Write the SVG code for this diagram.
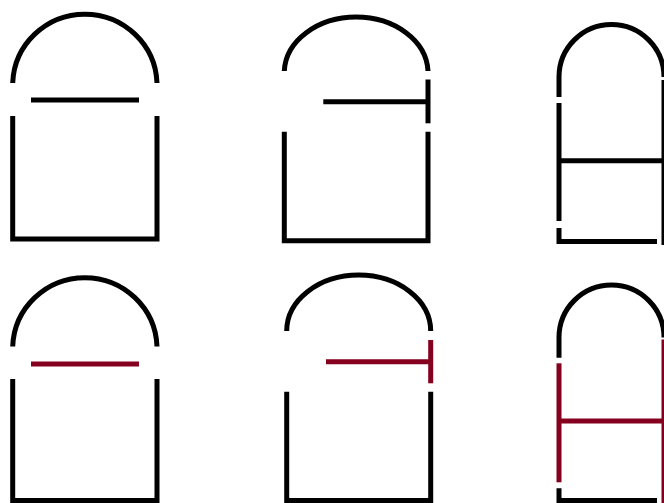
<svg xmlns="http://www.w3.org/2000/svg" width="664" height="503" viewBox="0 0 664 503">
<style>
.w{fill:none;stroke:#000;stroke-width:5;stroke-linejoin:miter;stroke-linecap:butt}
.r{fill:none;stroke:#85001f;stroke-width:5;stroke-linecap:butt}
</style>
<rect width="664" height="503" fill="#fff"/>
<g id="door1">
<path class="w" d="M12.7,83 A72.2,71.5 0 0 1 157,83"/>
<path class="w" d="M12.7,116 L12.7,239 L157,239 L157,116"/>
<path class="w" d="M31,100 L139,100"/>
</g>
<g id="door2">
<path class="w" d="M284.3,71 A71.9,56 0 0 1 428,71"/>
<path class="w" d="M284.3,131.7 L284.3,240.8 L428,240.8 L428,131.7"/>
<path class="w" d="M428,79.5 L428,123.3"/>
<path class="w" d="M323.3,101.8 L428,101.8"/>
</g>
<g id="door3">
<path class="w" d="M559,97 L559,77 A52.5,52.5 0 0 1 664,77"/>
<path class="w" d="M559,103 L559,221"/>
<path class="w" d="M559,228 L559,241.5 L657,241.5"/>
<path class="w" d="M664,80 L664,245"/>
<path class="w" d="M559,160.8 L664,160.8"/>
</g>
<g id="door4">
<path class="w" d="M12.7,346.5 A72.2,71.5 0 0 1 157,346.5"/>
<path class="w" d="M12.7,379 L12.7,500.5 L157,500.5 L157,379"/>
<path class="r" d="M31,364 L139,364"/>
</g>
<g id="door5">
<path class="w" d="M286.7,331 A72,56 0 0 1 430.7,331"/>
<path class="w" d="M286.7,391.7 L286.7,500.5 L430.7,500.5 L430.7,391.7"/>
<path class="r" d="M430.7,340 L430.7,383.3"/>
<path class="r" d="M326,361.7 L430.7,361.7"/>
</g>
<g id="door6">
<path class="w" d="M559,357.7 L559,337.5 A52.5,52.5 0 0 1 664,337.5"/>
<path class="r" d="M559,363.3 L559,482.3"/>
<path class="w" d="M559,488.3 L559,500.5 L657,500.5"/>
<path class="r" d="M664,339.5 L664,503"/>
<path class="r" d="M559,421 L664,421"/>
</g>
<g id="connectors"/>
</svg>
